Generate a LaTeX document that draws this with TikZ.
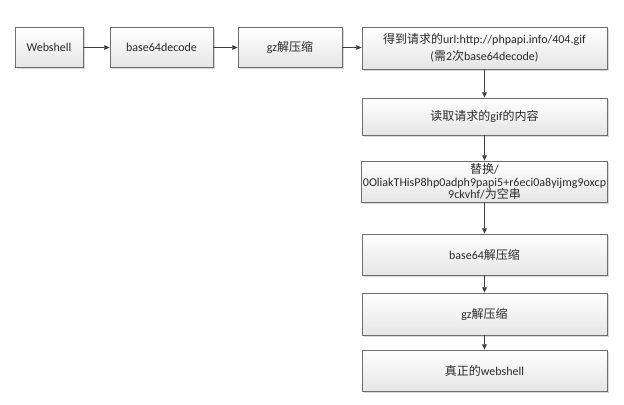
\documentclass[tikz,border=0pt]{standalone}
\usepackage{fontspec}
\setmainfont{Carlito}
\newfontfamily\cjk{Noto Sans CJK SC}
\usetikzlibrary{shadows,arrows.meta}
\newcommand{\zh}[1]{{\cjk #1}}
\definecolor{bordc}{HTML}{6E6E6E}
\definecolor{txtc}{HTML}{2B2B2B}
\definecolor{arrc}{HTML}{404040}
\tikzset{
  flowbox/.style={draw=bordc, line width=0.6pt, rectangle, top color=white, bottom color=black!10,
    text=txtc, font=\fontsize{9}{10.5}\selectfont, align=center, inner sep=1pt,
    drop shadow={shadow xshift=1.2pt, shadow yshift=-1.2pt, opacity=0.25, fill=black!60}},
  flowarr/.style={draw=arrc, line width=0.6pt, -{Triangle[length=4pt,width=3.5pt]}}
}
\begin{document}
\begin{tikzpicture}[x=0.75pt,y=-0.75pt]
\useasboundingbox (0,0) rectangle (624,404);
\fill[white] (0,0) rectangle (624,404);
\node[flowbox, minimum width={68*0.75pt}, minimum height={40*0.75pt}] (w) at (49,47.5) {Webshell};
\node[flowbox, minimum width={103*0.75pt}, minimum height={40*0.75pt}] (b) at (161.5,47.5) {base64decode};
\node[flowbox, minimum width={104*0.75pt}, minimum height={40*0.75pt}] (g) at (290,47.5) {gz\zh{解压缩}};
\node[flowbox, minimum width={245*0.75pt}, minimum height={42*0.75pt}, font=\fontsize{9}{12.5}\selectfont] (r1) at (484.5,48) {\zh{得到请求的}url:http://phpapi.info/404.gif\\(\zh{需}2\zh{次}base64decode)};
\node[flowbox, minimum width={245*0.75pt}, minimum height={37*0.75pt}] (r2) at (484.5,116.5) {\zh{读取请求的}gif\zh{的内容}};
\node[flowbox, minimum width={245*0.75pt}, minimum height={41*0.75pt}, font=\fontsize{9}{9.6}\selectfont] (r3) at (484.5,181.5) {\zh{替换}/\\0OliakTHisP8hp0adph9papi5+r6eci0a8yijmg9oxcp\\9ckvhf/\zh{为空串}};
\node[flowbox, minimum width={245*0.75pt}, minimum height={41*0.75pt}] (r4) at (484.5,254.5) {base64\zh{解压缩}};
\node[flowbox, minimum width={245*0.75pt}, minimum height={42*0.75pt}] (r5) at (484.5,314) {gz\zh{解压缩}};
\node[flowbox, minimum width={245*0.75pt}, minimum height={41*0.75pt}] (r6) at (484.5,370.5) {\zh{真正的}webshell};
\draw[flowarr] (w) -- (b);
\draw[flowarr] (b) -- (g);
\draw[flowarr] (g.east) -- (g.east -| r1.west);
\draw[flowarr] (r1) -- (r2);
\draw[flowarr] (r2) -- (r3);
\draw[flowarr] (r3) -- (r4);
\draw[flowarr] (r4) -- (r5);
\draw[flowarr] (r5) -- (r6);
\end{tikzpicture}
\end{document}
